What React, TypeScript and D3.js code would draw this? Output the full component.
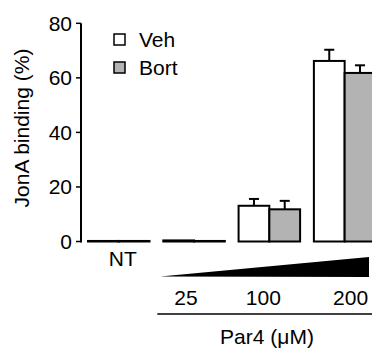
import React from "react";
import * as d3 from "d3";

const groups = ["NT", "25", "100", "200"];
const series = ["Veh", "Bort"];
const vehValues = [0.2, 0.4, 13.1, 66.2];
const bortValues = [0.2, 0.2, 11.8, 61.8];
const vehErr = [0, 0, 2.5, 4.1];
const bortErr = [0, 0, 3.1, 2.8];
const yTicks = [0, 20, 40, 60, 80];
const doseLabels = ["25", "100", "200"];
const colors = ["#ffffff", "#b3b3b3"];

const W = 372;
const H = 354;
const FONT = "'Liberation Sans', Arial, sans-serif";
const FS = 21;
const doseShift = [-8, -6, 6];

export default function App() {
  const y = d3.scaleLinear().domain([0, 80]).range([241.5, 23.3]);
  const x = d3
    .scaleBand<string>()
    .domain(groups)
    .range([88, 375.4])
    .paddingInner(0.183)
    .paddingOuter(0);
  const xs = d3.scaleBand<string>().domain(series).range([0, x.bandwidth()]);
  const values = [vehValues, bortValues];
  const errs = [vehErr, bortErr];
  const axisX = 81;
  const y0 = y(0);
  const wedgeLeft = (x("25") as number) - 3;
  const wedgeRight = 369;

  return (
    <svg
      width={W}
      height={H}
      style={{ position: "absolute", left: 0, top: 0, background: "#fff" }}
      fontFamily={FONT}
    >
      {/* y axis */}
      <line x1={axisX} x2={axisX} y1={y(80)} y2={y0 + 1} stroke="#000" strokeWidth={2} />
      {yTicks.map((t) => (
        <g key={t}>
          <line x1={axisX - 5} x2={axisX} y1={y(t)} y2={y(t)} stroke="#000" strokeWidth={1.5} />
          <text x={axisX - 9} y={y(t)} dy="0.35em" textAnchor="end" fontSize={FS}>
            {t}
          </text>
        </g>
      ))}
      <text
        transform={`translate(29,128) rotate(-90)`}
        textAnchor="middle"
        fontSize={FS}
      >
        JonA binding (%)
      </text>

      {/* bars */}
      {groups.map((g, gi) =>
        series.map((s, si) => {
          const v = values[si][gi];
          const bx = (x(g) as number) + (xs(s) as number);
          const bw = xs.bandwidth();
          const top = y(v);
          const h = Math.max(y0 - top, 0.5);
          const e = errs[si][gi];
          const cx = bx + bw / 2;
          return (
            <g key={g + s}>
              {e > 0 && (
                <g>
                  <line x1={cx} x2={cx} y1={y(v + e)} y2={top} stroke="#000" strokeWidth={2} />
                  <line x1={cx - 5} x2={cx + 5} y1={y(v + e)} y2={y(v + e)} stroke="#000" strokeWidth={2} />
                </g>
              )}
              <rect
                x={bx}
                y={y0 - h}
                width={bw}
                height={h}
                fill={colors[si]}
                stroke="#000"
                strokeWidth={2}
              />
            </g>
          );
        })
      )}

      {/* legend */}
      {series.map((s, i) => (
        <g key={s} transform={`translate(114,${34 + i * 28})`}>
          <rect x={0} y={0} width={11} height={11} fill={colors[i]} stroke="#000" strokeWidth={1.5} />
          <text x={25} y={5.5} dy="0.35em" fontSize={FS}>
            {s}
          </text>
        </g>
      ))}

      {/* NT label */}
      <text
        x={(x("NT") as number) + x.bandwidth() / 2 + 4}
        y={259}
        dy="0.35em"
        textAnchor="middle"
        fontSize={FS}
      >
        NT
      </text>

      {/* wedge */}
      <path
        d={`M${wedgeLeft},276.5 L${wedgeRight},257 L${wedgeRight},277 Z`}
        fill="#000"
      />

      {/* dose labels */}
      {doseLabels.map((d, i) => (
        <text
          key={d}
          x={(x(d) as number) + x.bandwidth() / 2 + doseShift[i]}
          y={298}
          dy="0.35em"
          textAnchor="middle"
          fontSize={FS}
        >
          {d}
        </text>
      ))}
      <line x1={wedgeLeft - 3} x2={W} y1={314} y2={314} stroke="#000" strokeWidth={1.5} />
      <text x={267} y={337} dy="0.35em" textAnchor="middle" fontSize={FS}>
        Par4 (μM)
      </text>
    </svg>
  );
}
